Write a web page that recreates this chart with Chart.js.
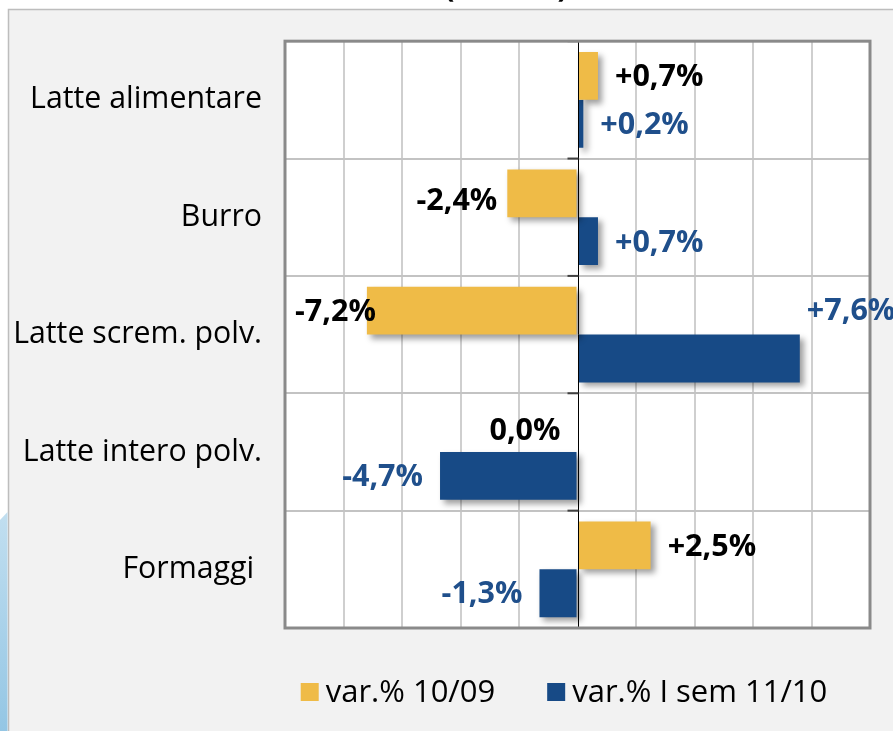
<!DOCTYPE html>
<html><head><meta charset="utf-8">
<script src="https://cdn.jsdelivr.net/npm/chart.js@4/dist/chart.umd.min.js"></script>
<style>html,body{margin:0;padding:0;background:#fff;overflow:hidden}#wrap{width:893px;height:731px;position:relative}</style>
</head><body><div id="wrap"><canvas id="c" width="893" height="731"></canvas></div>
<script>
// ---- data ----
const categories = ["Latte alimentare", "Burro", "Latte screm. polv.", "Latte intero polv.", "Formaggi "];
const seriesNames = ["var.% 10/09", "var.% I sem 11/10"];
const var1009 = [0.7, -2.4, -7.2, 0.0, 2.5];
const varSem1110 = [0.2, 0.7, 7.6, -4.7, -1.3];
const axisMin = -10, axisMax = 10, axisStep = 2;
const titleText = "(volumi)";

// ---- styles ----
const YELLOW = '#EFBB47', BLUE = '#174A86';
const barColors = [YELLOW, BLUE];
const labelColors = ['#000000', '#1F4F8B'];
const FONT = '"Open Sans", "Liberation Sans", sans-serif';
const labelGap = 17;
const labelNudge = [
  [[0, 1], [7, 8], [26, 2], [0, 3], [0, 2]],
  [[0, 2], [0, 2], [-10, -47], [0, 1], [0, 1]]
];
const fmt = v => (v > 0 ? '+' : (v < 0 ? '-' : '')) + Math.abs(v).toFixed(1).replace('.', ',') + '%';

const bgPlugin = {
  id: 'bg',
  beforeDraw(chart) {
    const ctx = chart.ctx, W = chart.width, H = chart.height, a = chart.chartArea;
    ctx.save();
    ctx.fillStyle = '#ffffff'; ctx.fillRect(0, 0, W, H);
    ctx.fillStyle = '#f2f2f2'; ctx.fillRect(8, 9, W - 8, H - 9);
    ctx.strokeStyle = '#bdbdbd'; ctx.lineWidth = 1.5;
    ctx.beginPath(); ctx.moveTo(8.5, H); ctx.lineTo(8.5, 9.5); ctx.lineTo(W, 9.5); ctx.stroke();
    const g = ctx.createLinearGradient(0, 510, 0, H);
    g.addColorStop(0, '#c2dff0'); g.addColorStop(1, '#94c6e4');
    ctx.fillStyle = g;
    ctx.beginPath(); ctx.moveTo(0, 520); ctx.lineTo(7.5, 512); ctx.lineTo(7.5, H); ctx.lineTo(0, H); ctx.closePath(); ctx.fill();
    ctx.fillStyle = '#ffffff'; ctx.fillRect(a.left, a.top, a.right - a.left, a.bottom - a.top);
    ctx.fillStyle = '#000'; ctx.font = 'bold 30px ' + FONT; ctx.textAlign = 'center'; ctx.textBaseline = 'alphabetic';
    ctx.fillText(titleText, 506, -3);
    ctx.restore();
  }
};

const shadowPlugin = {
  id: 'shadow',
  beforeDatasetsDraw(chart) {
    const ctx = chart.ctx; ctx.save();
    ctx.shadowColor = 'rgba(0,0,0,0.38)'; ctx.shadowBlur = 6; ctx.shadowOffsetX = 4; ctx.shadowOffsetY = 4;
  },
  afterDatasetsDraw(chart) { chart.ctx.restore(); }
};

const framePlugin = {
  id: 'frame',
  afterDatasetsDraw(chart) {
    const ctx = chart.ctx, a = chart.chartArea, xs = chart.scales.x, ys = chart.scales.y;
    const zx = Math.round(xs.getPixelForValue(0)) + 0.5;
    ctx.save();
    ctx.strokeStyle = '#000'; ctx.lineWidth = 1;
    ctx.beginPath(); ctx.moveTo(zx, a.top); ctx.lineTo(zx, a.bottom); ctx.stroke();
    ctx.strokeStyle = '#404040'; ctx.lineWidth = 2;
    const n = categories.length;
    const step = ys.getPixelForValue(1) - ys.getPixelForValue(0);
    for (let i = 0; i <= n; i++) {
      const y = i < n ? ys.getPixelForValue(i) - step / 2 : a.bottom;
      ctx.beginPath(); ctx.moveTo(zx - 11, y); ctx.lineTo(zx, y); ctx.stroke();
    }
    ctx.strokeStyle = '#8a8a8a'; ctx.lineWidth = 3;
    ctx.strokeRect(a.left, a.top, a.right - a.left, a.bottom - a.top);
    ctx.restore();
  }
};

const labelPlugin = {
  id: 'vlabels',
  afterDatasetsDraw(chart) {
    const ctx = chart.ctx; ctx.save();
    ctx.font = 'bold 30.5px ' + FONT; ctx.textBaseline = 'middle';
    chart.data.datasets.forEach((ds, di) => {
      chart.getDatasetMeta(di).data.forEach((bar, i) => {
        const v = ds.data[i], pos = v > 0, nd = labelNudge[di][i];
        ctx.fillStyle = labelColors[di];
        ctx.textAlign = pos ? 'left' : 'right';
        ctx.fillText(fmt(v), bar.x + (pos ? labelGap : -labelGap) + nd[0], bar.y + nd[1]);
      });
    });
    ctx.restore();
  }
};

const legendPlugin = {
  id: 'customLegend',
  afterDraw(chart) {
    const ctx = chart.ctx; ctx.save();
    ctx.font = '31px ' + FONT; ctx.textBaseline = 'middle'; ctx.textAlign = 'left';
    const box = 18, gap = 7, spacing = 52, cy = 692, centerX = 564;
    const widths = chart.data.datasets.map(d => ctx.measureText(d.label).width);
    let total = widths.reduce((s, w) => s + box + gap + w, 0) + spacing * (widths.length - 1);
    let x = centerX - total / 2;
    chart.data.datasets.forEach((d, i) => {
      ctx.fillStyle = d.backgroundColor; ctx.fillRect(x, cy - box / 2, box, box);
      ctx.fillStyle = '#000'; ctx.fillText(d.label, x + box + gap, cy + 1);
      x += box + gap + widths[i] + spacing;
    });
    ctx.restore();
  }
};

new Chart(document.getElementById('c').getContext('2d'), {
  type: 'bar',
  data: {
    labels: categories,
    datasets: [
      { label: seriesNames[0], data: var1009, backgroundColor: barColors[0], borderWidth: 0, categoryPercentage: 0.815, barPercentage: 1 },
      { label: seriesNames[1], data: varSem1110, backgroundColor: barColors[1], borderWidth: 0, categoryPercentage: 0.815, barPercentage: 1 }
    ]
  },
  options: {
    indexAxis: 'y', responsive: false, animation: false, devicePixelRatio: 1,
    layout: { padding: { top: 39, right: 23, bottom: 103, left: 0 } },
    scales: {
      x: {
        min: axisMin, max: axisMax,
        ticks: { display: false, stepSize: axisStep },
        grid: { color: c => c.tick && c.tick.value === 0 ? 'rgba(0,0,0,0)' : '#cfcfcf', lineWidth: 2, drawTicks: false },
        border: { display: false }
      },
      y: {
        grid: { offset: true, color: '#c3c3c3', lineWidth: 2, drawTicks: false },
        border: { display: false },
        ticks: { padding: 23, color: '#000', font: { family: FONT, size: 30.3 } },
        afterFit: s => { s.width = 285; }
      }
    },
    plugins: { legend: { display: false }, tooltip: { enabled: false }, title: { display: false } }
  },
  plugins: [bgPlugin, shadowPlugin, framePlugin, labelPlugin, legendPlugin]
});
</script>
</body></html>
